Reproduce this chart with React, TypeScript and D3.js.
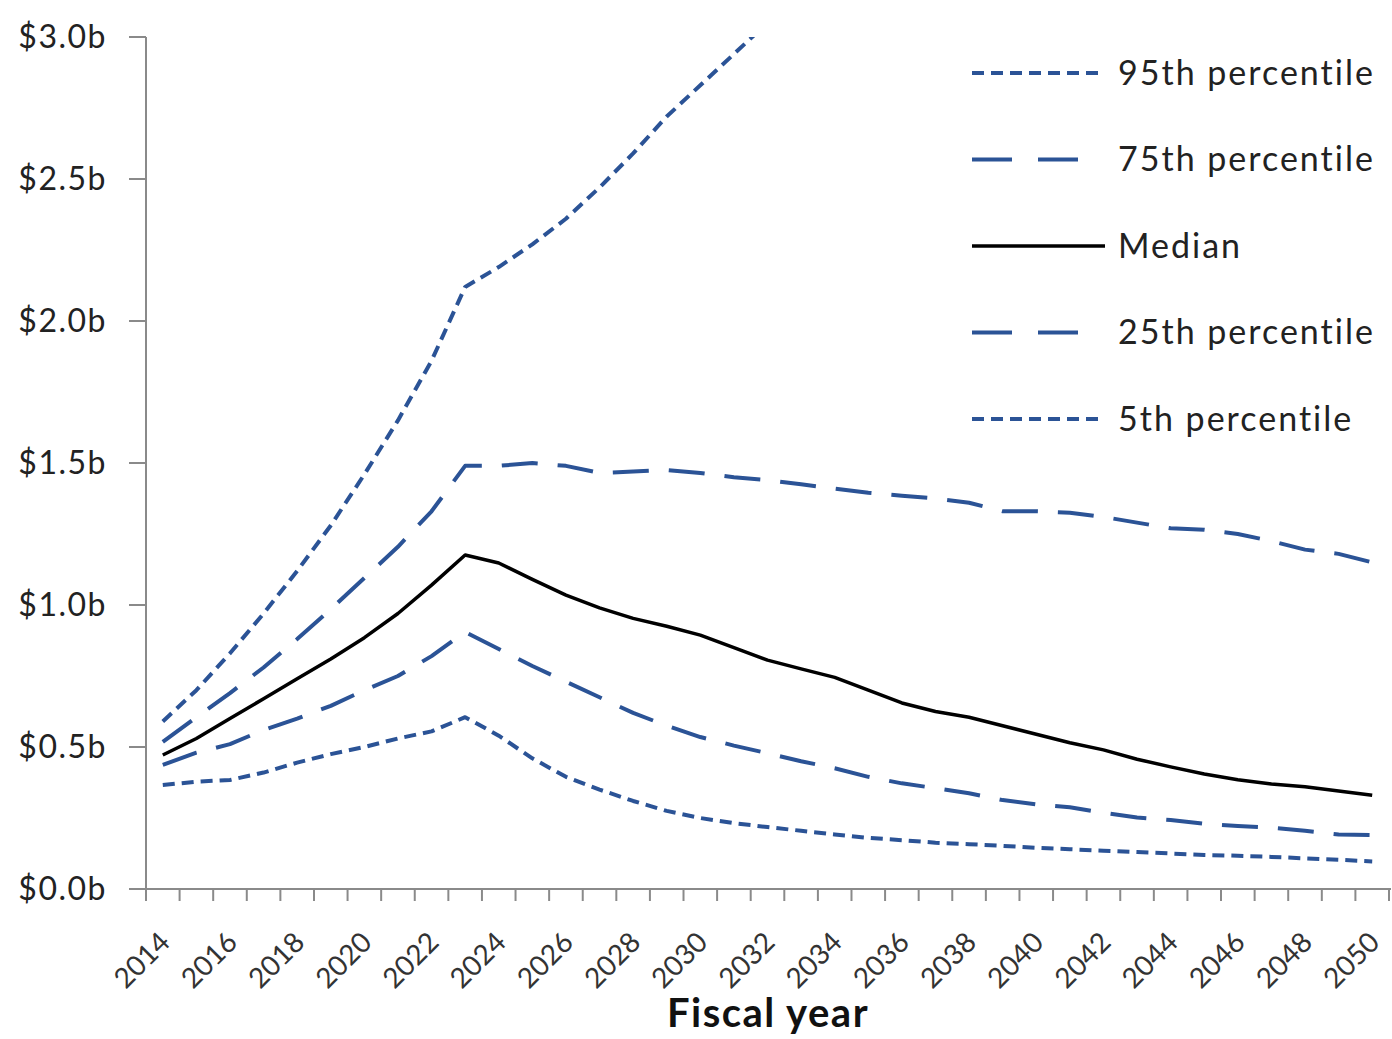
import React from "react";
import * as d3 from "d3";

const years: number[] = d3.range(2014, 2051);
const yTicks: number[] = [0, 0.5, 1.0, 1.5, 2.0, 2.5, 3.0];
const xLabelYears: number[] = d3.range(2014, 2051, 2);

// values in $ billions
const p95: number[] = [0.59, 0.7, 0.83, 0.97, 1.12, 1.28, 1.46, 1.65, 1.86, 2.12, 2.19, 2.27, 2.36, 2.47, 2.59, 2.72, 2.83, 2.94, 3.05];
const p75: number[] = [0.518, 0.605, 0.69, 0.78, 0.88, 0.985, 1.095, 1.205, 1.33, 1.49, 1.49, 1.5, 1.49, 1.465, 1.47, 1.475, 1.465, 1.45, 1.44, 1.425, 1.41, 1.395, 1.385, 1.375, 1.36, 1.33, 1.33, 1.325, 1.31, 1.29, 1.27, 1.265, 1.25, 1.225, 1.195, 1.18, 1.15];
const median: number[] = [0.472, 0.53, 0.6, 0.67, 0.74, 0.81, 0.885, 0.97, 1.07, 1.176, 1.148, 1.09, 1.035, 0.99, 0.953, 0.925, 0.894, 0.85, 0.806, 0.775, 0.745, 0.7, 0.655, 0.625, 0.605, 0.575, 0.545, 0.515, 0.49, 0.457, 0.43, 0.405, 0.385, 0.37, 0.36, 0.345, 0.33];
const p25: number[] = [0.437, 0.48, 0.51, 0.56, 0.6, 0.645, 0.7, 0.75, 0.82, 0.905, 0.845, 0.785, 0.73, 0.675, 0.62, 0.575, 0.535, 0.505, 0.478, 0.45, 0.425, 0.395, 0.372, 0.355, 0.337, 0.313, 0.298, 0.288, 0.268, 0.252, 0.243, 0.23, 0.222, 0.216, 0.205, 0.192, 0.19];
const p5: number[] = [0.366, 0.378, 0.384, 0.41, 0.445, 0.475, 0.5, 0.53, 0.555, 0.605, 0.54, 0.46, 0.395, 0.35, 0.31, 0.275, 0.25, 0.232, 0.218, 0.205, 0.192, 0.18, 0.172, 0.163, 0.158, 0.152, 0.145, 0.14, 0.135, 0.13, 0.125, 0.12, 0.117, 0.113, 0.108, 0.103, 0.097];

const seriesNames: string[] = ["95th percentile", "75th percentile", "Median", "25th percentile", "5th percentile"];
const seriesValues: number[][] = [p95, p75, median, p25, p5];

const BLUE = "#2B5396";
const SHORT = "12 7";
const LONG = "36 20";
const styles = [
  { stroke: BLUE, dash: SHORT, width: 4 },
  { stroke: BLUE, dash: LONG, width: 4 },
  { stroke: "#000", dash: "", width: 3.5 },
  { stroke: BLUE, dash: LONG, width: 4 },
  { stroke: BLUE, dash: SHORT, width: 4 },
];
const legendDash = ["12 7", "40 26", "", "40 26", "12 7"];

export default function App() {
  const W = 1392, H = 1039;
  const left = 146, right = 1389, top = 37, bottom = 889;
  const x = d3.scaleBand<number>().domain(years).range([left, right]).paddingInner(0).paddingOuter(0);
  const cx = (yr: number) => (x(yr) as number) + x.bandwidth() / 2;
  const y = d3.scaleLinear().domain([0, 3]).range([bottom, top]);
  const line = d3
    .line<number>()
    .defined((d) => d != null)
    .x((_, i) => cx(years[i]))
    .y((d) => y(d));
  const font = "Lato, 'Open Sans', sans-serif";
  const boundaries = [...years.map((yr) => x(yr) as number), right];

  return (
    <svg width={W} height={H} style={{ position: "absolute", left: 0, top: 0, background: "#fff" }}>
      <defs>
        <clipPath id="plot">
          <rect x={left} y={top} width={right - left + 4} height={bottom - top} />
        </clipPath>
      </defs>
      <rect width={W} height={H} fill="#fff" />
      {/* Y axis */}
      <line x1={left} x2={left} y1={top} y2={bottom} stroke="#8a8a8a" strokeWidth={2} />
      {yTicks.map((t) => (
        <g key={t}>
          <line x1={left - 17} x2={left} y1={y(t)} y2={y(t)} stroke="#8a8a8a" strokeWidth={2} />
          <text x={107} y={y(t)} dy="0.35em" textAnchor="end" fontFamily={font} fontSize={32} letterSpacing={1.5} fill="#222">
            {`$${t.toFixed(1)}b`}
          </text>
        </g>
      ))}
      {/* X axis */}
      <line x1={left - 17} x2={right + 2} y1={bottom} y2={bottom} stroke="#8a8a8a" strokeWidth={2} />
      {boundaries.map((bx, i) => (
        <line key={i} x1={bx} x2={bx} y1={bottom} y2={bottom + 12} stroke="#8a8a8a" strokeWidth={2} />
      ))}
      {xLabelYears.map((yr) => (
        <text
          key={yr}
          transform={`translate(${cx(yr) + 9},${944}) rotate(-45)`}
          textAnchor="end"
          fontFamily={font}
          fontSize={28}
          fill="#333"
        >
          {yr}
        </text>
      ))}
      <text x={768} y={1027} textAnchor="middle" fontFamily={font} fontWeight="bold" fontSize={40} letterSpacing={1.5} fill="#111">
        Fiscal year
      </text>
      {/* Series */}
      <g clipPath="url(#plot)">
        {seriesValues.map((vals, i) => (
          <path
            key={i}
            d={line(vals) || ""}
            fill="none"
            stroke={styles[i].stroke}
            strokeWidth={styles[i].width}
            strokeDasharray={styles[i].dash || undefined}
            strokeLinejoin="round"
          />
        ))}
      </g>
      {/* Legend */}
      {seriesNames.map((name, i) => {
        const ly = 73 + i * 86.5;
        return (
          <g key={name}>
            <line
              x1={972}
              x2={i === 1 || i === 3 ? 1085 : 1105}
              y1={ly}
              y2={ly}
              stroke={styles[i].stroke}
              strokeWidth={styles[i].width}
              strokeDasharray={legendDash[i] || undefined}
            />
            <text x={1118} y={ly} dy="0.35em" fontFamily={font} fontSize={34} letterSpacing={2} fill="#222">
              {name}
            </text>
          </g>
        );
      })}
    </svg>
  );
}
